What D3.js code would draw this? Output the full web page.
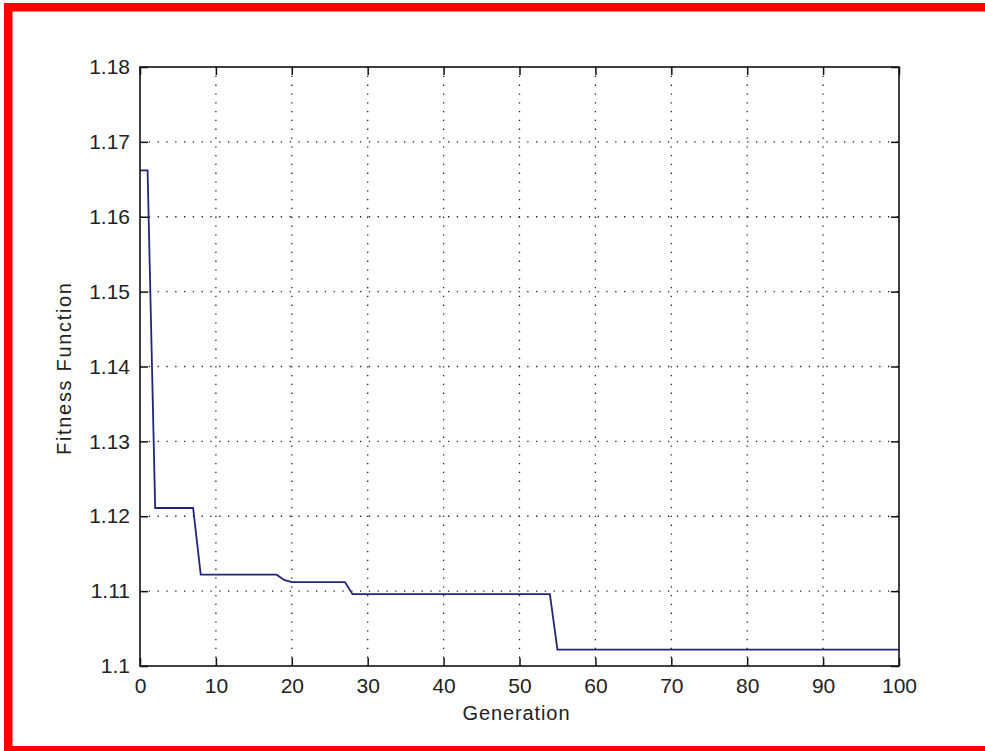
<!DOCTYPE html>
<html>
<head>
<meta charset="utf-8">
<script src="https://cdn.jsdelivr.net/npm/d3@7/dist/d3.min.js"></script>
<style>
  html, body { margin: 0; padding: 0; background: #fff; }
  svg { display: block; }
  text { font-family: "Liberation Sans", Arial, Helvetica, sans-serif; fill: #222; }
</style>
</head>
<body>
<svg id="chart" width="985" height="751"></svg>
<script>
// Breakpoints of the fitness curve (generation, fitness); line is drawn straight between them
const generations = [0, 1, 2, 7, 8, 18, 19, 20, 27, 28, 54, 55, 100];
const fitness     = [1.1662, 1.1662, 1.1211, 1.1211, 1.1122, 1.1122, 1.1115, 1.1112, 1.1112, 1.1096, 1.1096, 1.1022, 1.1022];
const xTicks = [0, 10, 20, 30, 40, 50, 60, 70, 80, 90, 100];
const yTicks = [1.10, 1.11, 1.12, 1.13, 1.14, 1.15, 1.16, 1.17, 1.18];
const yTickLabels = ["1.1", "1.11", "1.12", "1.13", "1.14", "1.15", "1.16", "1.17", "1.18"];
const xLabel = "Generation";
const yLabel = "Fitness Function";

const svg = d3.select("#chart");

// red frame (cropped on the right)
svg.append("rect").attr("x", 0).attr("y", 0).attr("width", 985).attr("height", 751).attr("fill", "#fff");
svg.append("rect").attr("x", 4).attr("y", 3).attr("width", 981).attr("height", 8.5).attr("fill", "#ff0000");
svg.append("rect").attr("x", 4).attr("y", 3).attr("width", 8.5).attr("height", 748).attr("fill", "#ff0000");
svg.append("rect").attr("x", 4).attr("y", 746).attr("width", 981).attr("height", 5).attr("fill", "#ff0000");

const L = 140, R = 899, T = 67, B = 666;
const x = d3.scaleLinear().domain([0, 100]).range([L, R]);
const y = d3.scaleLinear().domain([1.10, 1.18]).range([B, T]);

const g = svg.append("g");

// grid
g.selectAll("line.vg").data(xTicks.filter(d => d > 0 && d < 100)).enter().append("line")
  .attr("x1", d => x(d)).attr("x2", d => x(d)).attr("y1", T).attr("y2", B)
  .attr("stroke", "#222").attr("stroke-width", 1.3).attr("stroke-dasharray", "1.3 7.5");
g.selectAll("line.hg").data(yTicks.filter(d => d > 1.1001 && d < 1.1799)).enter().append("line")
  .attr("y1", d => y(d)).attr("y2", d => y(d)).attr("x1", L).attr("x2", R)
  .attr("stroke", "#222").attr("stroke-width", 1.3).attr("stroke-dasharray", "1.3 7.5");

// data line
const line = d3.line().x((d, i) => x(generations[i])).y(d => y(d));
g.append("path").datum(fitness).attr("d", line)
  .attr("fill", "none").attr("stroke", "#24247a").attr("stroke-width", 1.8);

// axes with inward ticks on all sides
const tk = 8;
const xb = d3.axisBottom(x).tickValues(xTicks).tickSizeInner(-tk).tickSizeOuter(0).tickPadding(12).tickFormat(d3.format("d"));
const xt = d3.axisTop(x).tickValues(xTicks).tickSizeInner(-tk).tickSizeOuter(0).tickFormat("");
const yl = d3.axisLeft(y).tickValues(yTicks).tickSizeInner(-tk).tickSizeOuter(0).tickPadding(10).tickFormat((d, i) => yTickLabels[i]);
const yr = d3.axisRight(y).tickValues(yTicks).tickSizeInner(-tk).tickSizeOuter(0).tickFormat("");

function style(sel) {
  sel.select(".domain").remove();
  sel.selectAll(".tick line").attr("stroke", "#111").attr("stroke-width", 1.5);
  sel.selectAll(".tick text").attr("font-size", 21).attr("fill", "#222")
     .style("font-family", "'Liberation Sans', Arial, sans-serif");
}
g.append("g").attr("transform", `translate(0,${B})`).call(xb).call(style);
g.append("g").attr("transform", `translate(0,${T})`).call(xt).call(style);
g.append("g").attr("transform", `translate(${L},0)`).call(yl).call(style);
g.append("g").attr("transform", `translate(${R},0)`).call(yr).call(style);

// box
g.append("rect").attr("x", L).attr("y", T).attr("width", R - L).attr("height", B - T)
  .attr("fill", "none").attr("stroke", "#111").attr("stroke-width", 1.6);

// labels
svg.append("text").attr("x", 516).attr("y", 720).attr("text-anchor", "middle")
  .attr("font-size", 20).attr("textLength", 107).attr("lengthAdjust", "spacing").text(xLabel);
svg.append("text").attr("transform", "translate(71,369) rotate(-90)").attr("text-anchor", "middle")
  .attr("font-size", 20).attr("textLength", 172).attr("lengthAdjust", "spacing").text(yLabel);
</script>
</body>
</html>
